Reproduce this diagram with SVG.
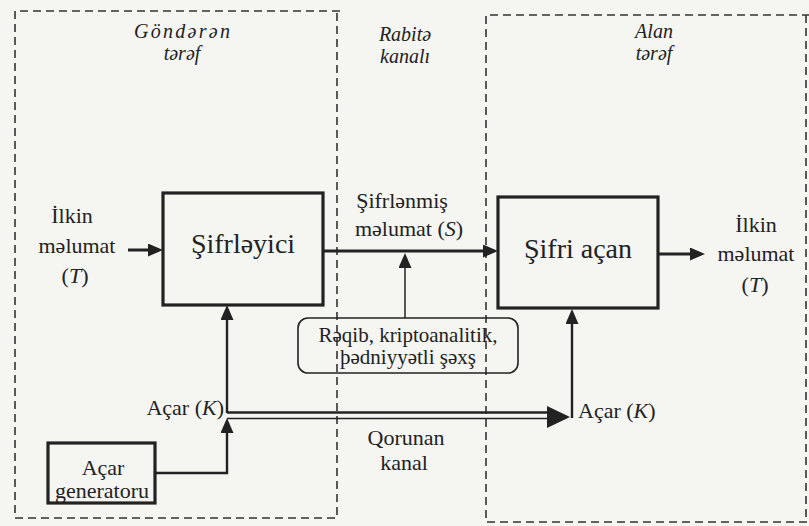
<svg xmlns="http://www.w3.org/2000/svg" width="809" height="526" viewBox="0 0 809 526" font-family="Liberation Serif, DejaVu Serif, serif">
<defs>
<style>
.bg{fill:#f5f5f2}
.zone{fill:none;stroke:#333;stroke-width:1.6;stroke-dasharray:8 5}
.box{fill:none;stroke:#222;stroke-width:3.2}
.rbox{fill:none;stroke:#222;stroke-width:1.6}
.ln{fill:none;stroke:#222;stroke-width:3}
.ln2{fill:none;stroke:#222;stroke-width:2.4}
.thin{fill:none;stroke:#222;stroke-width:1.5}
.ah{fill:#222}
text{fill:#222;font-size:22px;text-anchor:middle}
.it{font-style:italic}
.ti{font-style:italic;font-size:20px}
.big{font-size:28px}
.sm{font-size:21px}
</style>
<marker id="arr" markerUnits="userSpaceOnUse" markerWidth="15" markerHeight="13" refX="11" refY="6.5" orient="auto">
<path d="M0,0 L15,6.5 L0,13 z" class="ah"/>
</marker>
</defs>
<rect class="bg" x="0" y="0" width="809" height="526"/>

<g id="zone-sender">
<path class="zone" d="M340,11 H15 V518 H337 V11"/>
<text class="ti" x="182" y="38" textLength="96" lengthAdjust="spacing">Göndərən</text>
<text class="ti" x="182" y="60">tərəf</text>
</g>
<g id="zone-channel">
<text class="ti" x="405" y="41">Rabitə</text>
<text class="ti" x="405" y="63">kanalı</text>
</g>
<g id="zone-receiver">
<path class="zone" d="M810,15 H486 V522 H810"/>
<path class="zone" d="M806,15 V522"/>
<text class="ti" x="654" y="38">Alan</text>
<text class="ti" x="654" y="60">tərəf</text>
</g>

<g id="input">
<text x="72" y="223">İlkin</text>
<text x="77" y="253">məlumat</text>
<text x="75" y="283">(<tspan class="it">T</tspan>)</text>
</g>

<g id="encryptor">
<rect class="box" x="163" y="193" width="160" height="112"/>
<text class="big" x="243" y="253">Şifrləyici</text>
</g>

<g id="decryptor">
<rect class="box" x="498" y="197" width="160" height="111"/>
<text class="big" x="578" y="258">Şifri açan</text>
</g>

<g id="output">
<text x="756" y="232">İlkin</text>
<text x="756" y="261">məlumat</text>
<text x="755" y="292">(<tspan class="it">T</tspan>)</text>
</g>

<g id="cipher-label">
<text x="402" y="208">Şifrlənmiş</text>
<text x="409" y="236">məlumat (<tspan class="it">S</tspan>)</text>
</g>

<g id="attacker">
<rect class="rbox" x="298" y="318" width="220" height="55" rx="10"/>
<text class="sm" x="408" y="342">Rəqib, kriptoanalitik,</text>
<text class="sm" x="408" y="364">þədniyyətli şəxş</text>
</g>

<g id="keygen">
<rect class="box" x="48" y="443" width="107" height="60"/>
<text x="103" y="475">Açar</text>
<text x="102" y="498">generatoru</text>
</g>

<g id="key-left">
<text x="224" y="415" style="text-anchor:end">Açar (<tspan class="it">K</tspan>)</text>
</g>
<g id="key-right">
<text x="578" y="418" style="text-anchor:start">Açar (<tspan class="it">K</tspan>)</text>
</g>
<g id="secure-label">
<text x="406" y="445">Qorunan</text>
<text x="404" y="470">kanal</text>
</g>

<g id="connectors">
<path class="ln" d="M128,250 H159" marker-end="url(#arr)"/>
<path class="ln" d="M323,251 H494" marker-end="url(#arr)"/>
<path class="thin" d="M405,318 V257" marker-end="url(#arr)"/>
<path class="ln" d="M658,254 H701" marker-end="url(#arr)"/>
<path class="ln2" d="M155,473 H227 V422" marker-end="url(#arr)"/>
<path class="ln2" d="M227,413 V309" marker-end="url(#arr)"/>
<path class="ln2" d="M227,412.5 H552"/>
<path class="thin" d="M227,418.5 H552"/>
<polygon class="ah" points="570,417 547,406 547,428"/>
<path class="ln2" d="M572,418 V313" marker-end="url(#arr)"/>
</g>
</svg>
